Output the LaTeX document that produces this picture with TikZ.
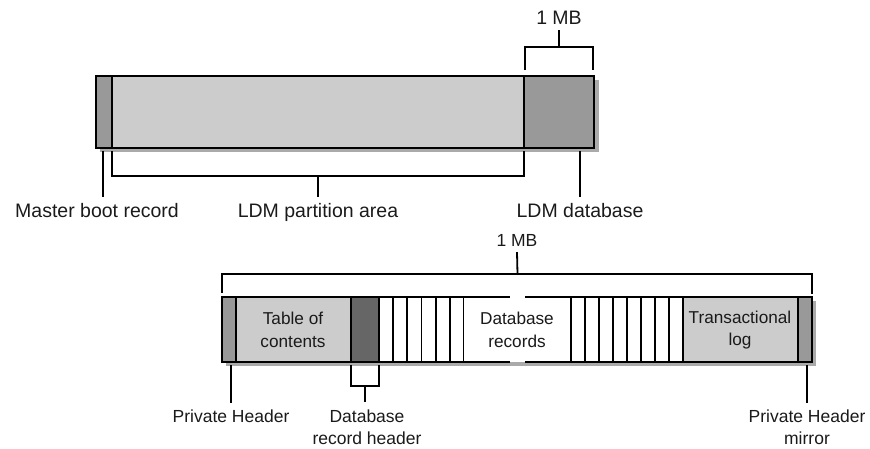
\documentclass[tikz,border=0pt]{standalone}
\usepackage{fontspec}
\setmainfont{Liberation Sans}
\definecolor{midgray}{HTML}{999999}
\definecolor{lightgray}{HTML}{CCCCCC}
\definecolor{darkgray}{HTML}{666666}
\definecolor{shadowgray}{HTML}{AAAAAA}
\definecolor{txt}{HTML}{1A1A1A}
\begin{document}
\begin{tikzpicture}[x=1pt,y=-1pt,
  seg/.style={draw=black,line width=1.9pt,inner sep=0pt,outer sep=0pt,anchor=north west},
  shadowbox/.style={fill=shadowgray,draw=none},
  link/.style={line width=1.8pt,line cap=butt},
  biglbl/.style={font=\fontsize{19.5}{24}\selectfont,text=txt,inner sep=0pt,align=center},
  smalllbl/.style={font=\fontsize{17.5}{22}\selectfont,text=txt,inner sep=0pt,align=center},
  intext/.style={font=\fontsize{17.2}{22.6}\selectfont,text=txt,inner sep=0pt,align=center},
]
\path[use as bounding box] (0,0) rectangle (870,449);

% ---------- disk layout ----------
\fill[shadowbox] (100,80) rectangle (599,152);
\node[seg,fill=midgray,minimum width=16pt,minimum height=72pt] (mbr) at (96,76) {};
\node[seg,fill=lightgray,minimum width=412pt,minimum height=72pt] (part) at (112,76) {};
\node[seg,fill=midgray,minimum width=70pt,minimum height=72pt] (ldmdb) at (524,76) {};

\node[biglbl,anchor=base] (mbrlbl) at (97,218) {Master boot record};
\node[biglbl,anchor=base] (partlbl) at (318,218) {LDM partition area};
\node[biglbl,anchor=base] (dblbl) at (580,218) {LDM database};
\node[biglbl,anchor=base] (mbtop) at (559,25) {1 MB};

% pointer to the master boot record
\draw[link] ([xshift=-1pt,yshift=-3pt]mbr.south) -- ([xshift=-1pt]mbr.south |- 0,197);
% bracket under the partition area
\draw[link] ([yshift=-3pt]part.south west) -- (part.south west |- 0,176)
  -- (part.south east |- 0,176) -- ([yshift=-3pt]part.south east);
\draw[link] (part.south |- 0,176) -- (part.south |- 0,197);
% bracket over the LDM database
\draw[link] ([xshift=1pt,yshift=6pt]ldmdb.north west) -- ([xshift=1pt]ldmdb.north west |- 0,47)
  -- ([xshift=-1pt]ldmdb.north east |- 0,47) -- ([xshift=-1pt,yshift=6pt]ldmdb.north east);
\draw[link] (ldmdb.north |- 0,47) -- ([yshift=-5pt]mbtop.south);
% pointer to the LDM database
\draw[link] (580,151) coordinate (dbp) -- (dbp |- 0,197);

% ---------- LDM database layout ----------
\fill[shadowbox] (226,301) rectangle (816,366);
\node[seg,fill=midgray,minimum width=14pt,minimum height=65pt] (ph) at (222,297) {};
\node[seg,fill=lightgray,minimum width=115pt,minimum height=65pt] (toc) at (236,297) {};
\node[seg,fill=darkgray,minimum width=28pt,minimum height=65pt] (rh) at (351,297) {};
\foreach \i in {0,...,5}
  \node[seg,fill=white,minimum width=14.17pt,minimum height=65pt] (cl\i) at ({379+14.17*\i},297) {};
\node[inner sep=0pt,outer sep=0pt,anchor=north west,fill=white,minimum width=107pt,minimum height=65pt] (recs) at (464,297) {};
\foreach \i in {0,...,7}
  \node[seg,fill=white,minimum width=14pt,minimum height=65pt] (cr\i) at ({571+14*\i},297) {};
\node[seg,fill=lightgray,minimum width=115pt,minimum height=65pt] (log) at (683,297) {};
\node[seg,fill=midgray,minimum width=14pt,minimum height=65pt] (phm) at (798,297) {};

% record area outline, broken in the middle
\coordinate (brkA) at (510,297);
\coordinate (brkB) at (525,297);
\coordinate (brkC) at (510,362);
\coordinate (brkD) at (525,362);
\draw[link,line width=1.9pt] (recs.north west) -- (brkA);
\draw[link,line width=1.9pt] (brkB) -- (recs.north east);
\draw[link,line width=1.9pt] (recs.south west) -- (brkC);
\draw[link,line width=1.9pt] (brkD) -- (recs.south east);

\node[intext] (toctxt) at (293,330) {Table of\\contents};
\node[intext] (rectxt) at (517,330) {Database\\records};
\node[intext] (logtxt) at (740,330) {Transactional\\log};

% bracket over the whole database
\node[smalllbl,anchor=base] (mbbot) at (517,247) {1 MB};
\draw[link] ([yshift=4pt]ph.north west) -- (ph.north west |- 0,274)
  -- (phm.north east |- 0,274) -- ([yshift=3pt]phm.north east);
\draw[link] (recs.north |- 0,274) -- ([yshift=-5pt]mbbot.south);

% labels below
\node[smalllbl,anchor=base] (phlbl) at (231,422.3) {Private Header};
\node[smalllbl,anchor=north] (rhlbl) at (367,409.5) {Database\\record header};
\node[smalllbl,anchor=north] (phmlbl) at (807,409.5) {Private Header\\mirror};

\draw[link] ([xshift=2pt,yshift=-3pt]ph.south) -- ([xshift=2pt]ph.south |- 0,403);
\draw[link] ([yshift=-3pt]rh.south west) -- (rh.south west |- 0,386)
  -- (rh.south east |- 0,386) -- ([yshift=-3pt]rh.south east);
\draw[link] (rh.south |- 0,386) -- (rh.south |- 0,402);
\draw[link] ([xshift=2pt,yshift=-3pt]phm.south) -- ([xshift=2pt]phm.south |- 0,403);
\end{tikzpicture}
\end{document}
